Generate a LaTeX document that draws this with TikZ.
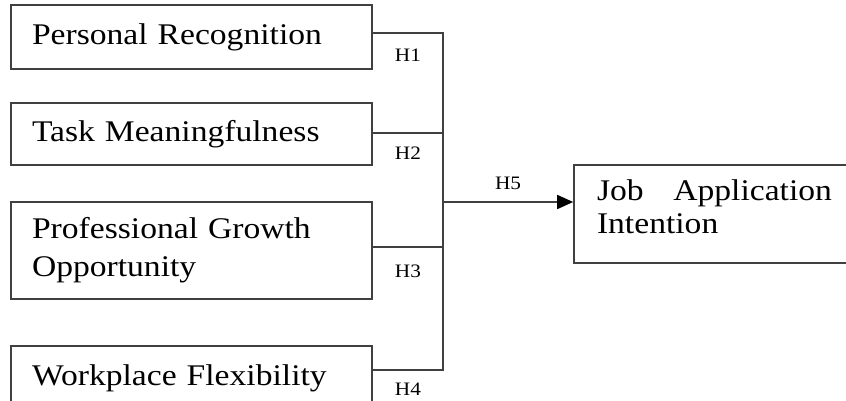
\documentclass[tikz,border=0pt]{standalone}
\usepackage{fontspec}
\setmainfont{Liberation Serif}[FakeStretch=1.12]
\usepackage{tikz}
\usetikzlibrary{arrows.meta,positioning}
\usepackage{xcolor}
\definecolor{linegray}{RGB}{64,64,64}
\tikzstyle{link} = [line width=1.6pt, draw=linegray]
\tikzstyle{arrow} = [link, -{Triangle[length=16pt,width=14pt,color=black]}]
\tikzstyle{factor} = [rectangle, draw=linegray, line width=1.6pt, align=left, text width=319pt, inner xsep=21pt, inner ysep=0pt, font=\fontsize{30}{38}\selectfont]
\tikzstyle{hyp} = [font=\fontsize{19}{19}\selectfont, inner sep=0pt]

\begin{document}
\begin{tikzpicture}[x=1pt, y=1pt]
\useasboundingbox (0,0) rectangle (846,400);
\clip (0,0) rectangle (846,400);
% Predictors
\node (recog) [factor, minimum height=64pt] at (191.5,363) {Personal Recognition};
\node (meaning) [factor, minimum height=62pt] at (191.5,266) {Task Meaningfulness};
\node (growth) [factor, minimum height=97pt] at (191.5,149.5) {Professional Growth\\Opportunity};
\node (flex) [factor, minimum height=64pt] at (191.5,22) {Workplace Flexibility};
% Outcome
\node (intent) [factor, align=justify, text width=235pt, inner xsep=23pt, minimum height=98pt, text depth=48.5pt, font={\fontsize{30}{33}\selectfont}] at (714.5,186) {Job Application \mbox{Intention}};

\coordinate (hub) at (443,198);
\draw[link] ([yshift=4pt]recog.east) -| (hub) node[hyp, pos=0.25, yshift=-22pt] {H1};
\draw[link] ([yshift=1pt]meaning.east) -| (hub) node[hyp, pos=0.25, yshift=-20pt] {H2};
\draw[link] ([yshift=3.5pt]growth.east) -| (hub) node[hyp, pos=0.25, yshift=-24pt] {H3};
\draw[link] ([yshift=8pt]flex.east) -| (hub) node[hyp, pos=0.25, yshift=-19pt] {H4};
\draw[arrow] (hub) -- (hub -| intent.west) node[hyp, midway, yshift=19pt] {H5};
\end{tikzpicture}
\end{document}
